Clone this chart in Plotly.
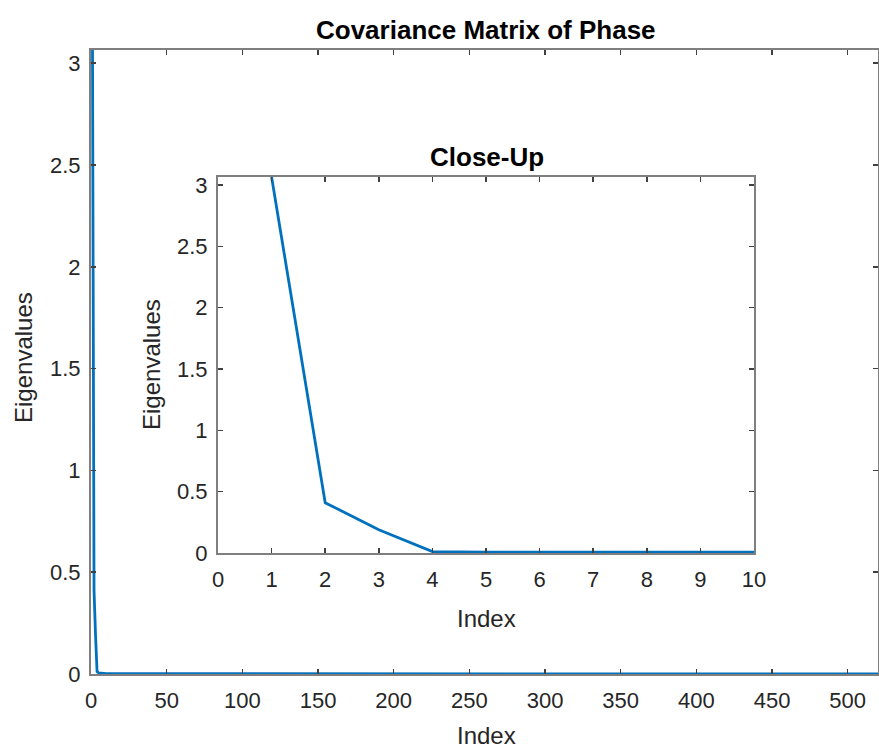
import plotly.graph_objects as go

# ---- data ----
index_vals = [1, 2, 3, 4, 5, 6, 7, 8, 9, 10, 520]
eigenvalues = [3.065, 0.41, 0.19, 0.012, 0.006, 0.0045, 0.0035, 0.003, 0.0025, 0.002, 0.0]

main_xticks = [0, 50, 100, 150, 200, 250, 300, 350, 400, 450, 500]
y_ticks = [0, 0.5, 1, 1.5, 2, 2.5, 3]
y_ticklabels = ["0", "0.5", "1", "1.5", "2", "2.5", "3"]
inset_xticks = [0, 1, 2, 3, 4, 5, 6, 7, 8, 9, 10]

title_main = "Covariance Matrix of Phase"
title_inset = "Close-Up"
xlabel = "Index"
ylabel = "Eigenvalues"

W, H = 879, 749
FONT = "Liberation Sans, Arial, Helvetica, sans-serif"
TXT = "#262626"
LINE = "#0072BD"
AXC = "#7f7f7f"

def px_x(p):
    return p / W

def px_y(p):
    return (H - p) / H

# layout in pixel terms
main_l, main_r, main_t, main_b = 91, 878, 50, 674
ins_l, ins_r, ins_t, ins_b = 218, 754, 177, 553

fig = go.Figure()
fig.add_trace(go.Scatter(x=index_vals, y=eigenvalues, mode="lines",
                         line=dict(color=LINE, width=2.8), xaxis="x", yaxis="y",
                         showlegend=False, hoverinfo="skip"))
fig.add_trace(go.Scatter(x=index_vals, y=eigenvalues, mode="lines",
                         line=dict(color=LINE, width=2.8), xaxis="x2", yaxis="y2",
                         showlegend=False, hoverinfo="skip"))

axis_common = dict(showline=True, linecolor=AXC, linewidth=2, mirror="ticks",
                   ticks="inside", ticklen=5, tickwidth=1.5, tickcolor="#404040",
                   showgrid=False, zeroline=False, automargin=False,
                   tickfont=dict(family=FONT, size=22, color=TXT))

ymax = max(eigenvalues)

fig.update_layout(
    width=W, height=H,
    margin=dict(l=0, r=0, t=0, b=0, pad=0),
    paper_bgcolor="white", plot_bgcolor="white",
    xaxis=dict(domain=[px_x(main_l), px_x(main_r)], range=[0, 520],
               tickvals=main_xticks, anchor="y", ticklabelstandoff=6, **axis_common),
    yaxis=dict(domain=[px_y(main_b), px_y(main_t)], range=[0, ymax],
               tickvals=y_ticks, ticktext=y_ticklabels, anchor="x",
               ticklabelstandoff=4, **axis_common),
    xaxis2=dict(domain=[px_x(ins_l), px_x(ins_r)], range=[0, 10],
                tickvals=inset_xticks, anchor="y2", ticklabelstandoff=6, **axis_common),
    yaxis2=dict(domain=[px_y(ins_b), px_y(ins_t)], range=[0, ymax],
                tickvals=y_ticks, ticktext=y_ticklabels, anchor="x2",
                ticklabelstandoff=4, **axis_common),
)

ann = []
ann.append(dict(text="<b>" + title_main + "</b>", x=px_x(486), y=px_y(30),
                font=dict(family=FONT, size=26, color="black")))
ann.append(dict(text="<b>" + title_inset + "</b>", x=px_x(487), y=px_y(157),
                font=dict(family=FONT, size=26, color="black")))
ann.append(dict(text=xlabel, x=px_x(486), y=px_y(735),
                font=dict(family=FONT, size=24, color=TXT)))
ann.append(dict(text=xlabel, x=px_x(487), y=px_y(618),
                font=dict(family=FONT, size=24, color=TXT)))
ann.append(dict(text=ylabel, x=px_x(24), y=px_y(358), textangle=-90,
                font=dict(family=FONT, size=24, color=TXT)))
ann.append(dict(text=ylabel, x=px_x(152), y=px_y(365), textangle=-90,
                font=dict(family=FONT, size=24, color=TXT)))
for a in ann:
    a.update(xref="paper", yref="paper", showarrow=False, xanchor="center", yanchor="middle")
fig.update_layout(annotations=ann)

fig.write_html("out.html",
               config={"displayModeBar": False, "staticPlot": True},
               post_script="document.body.style.margin='0';document.body.style.overflow='hidden';")
